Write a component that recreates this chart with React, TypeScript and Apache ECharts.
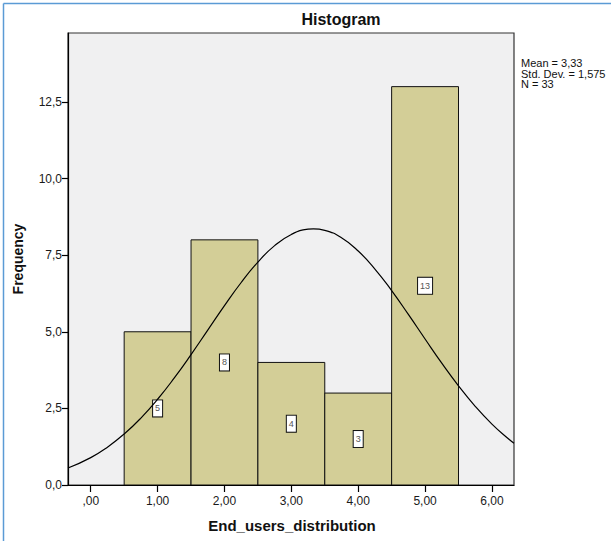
import React, { useEffect, useRef } from 'react';
import * as echarts from 'echarts';

// Histogram bins (centre of each bin) and frequencies
const binCenters = [1, 2, 3, 4, 5];
const frequencies = [5, 8, 4, 3, 13];
const binWidth = 1;

// Tick values
const xTickValues = [0, 1, 2, 3, 4, 5, 6];
const yTickValues = [0, 2.5, 5, 7.5, 10, 12.5];

// Fitted normal curve
const curveX = [-0.34, 0, 0.25, 0.5, 0.75, 1, 1.25, 1.5, 1.75, 2, 2.25, 2.5, 2.75, 3, 3.25, 3.33, 3.5, 3.75, 4, 4.25, 4.5, 4.75, 5, 5.25, 5.5, 5.75, 6, 6.25, 6.33];
const curveY = [0.553, 0.894, 1.235, 1.664, 2.185, 2.798, 3.495, 4.255, 5.054, 5.852, 6.608, 7.275, 7.811, 8.177, 8.348, 8.358, 8.31, 8.067, 7.636, 7.048, 6.343, 5.567, 4.765, 3.975, 3.236, 2.567, 1.987, 1.499, 1.363];

const statsLines = ['Mean = 3,33', 'Std. Dev. = 1,575', 'N = 33'];

const xMin = -0.34;
const xMax = 6.33;
const yMin = 0;
const yMax = 14.75;

const FONT = '"Liberation Sans", Arial, sans-serif';
const barColor = '#d3ce97';

export default function App() {
  const ref = useRef<HTMLDivElement>(null);

  useEffect(() => {
    if (!ref.current) return;
    const chart = echarts.init(ref.current, null, { renderer: 'svg' });

    const option: any = {
      animation: false,
      backgroundColor: '#ffffff',
      textStyle: { fontFamily: FONT },
      grid: {
        left: 68,
        right: 97,
        top: 33,
        bottom: 56,
        show: true,
        backgroundColor: '#f0f0f1',
        borderColor: '#333',
        borderWidth: 1.2,
        containLabel: false,
      },
      xAxis: {
        type: 'value',
        min: xMin,
        max: xMax,
        axisLine: { show: true, onZero: false, lineStyle: { color: '#000', width: 1.2 } },
        axisTick: { show: true, customValues: xTickValues, length: 7, lineStyle: { color: '#000', width: 1.2 } },
        axisLabel: {
          customValues: xTickValues,
          margin: 10,
          fontSize: 12,
          color: '#1a1a1a',
          fontFamily: FONT,
          formatter: (v: number) => (v === 0 ? ',00' : v.toFixed(2).replace('.', ',')),
        },
        splitLine: { show: false },
      },
      yAxis: {
        type: 'value',
        min: yMin,
        max: yMax,
        axisLine: { show: true, onZero: false, lineStyle: { color: '#000', width: 1.2 } },
        axisTick: { show: true, customValues: yTickValues, length: 6, lineStyle: { color: '#000', width: 1.2 } },
        axisLabel: {
          customValues: yTickValues,
          margin: 6,
          fontSize: 12,
          color: '#1a1a1a',
          fontFamily: FONT,
          formatter: (v: number) => v.toFixed(1).replace('.', ','),
        },
        splitLine: { show: false },
      },
      series: [
        {
          type: 'custom',
          z: 2,
          clip: true,
          data: binCenters.map((c, i) => [c, frequencies[i]]),
          renderItem: (params: any, api: any) => {
            const c = api.value(0);
            const v = api.value(1);
            const p0 = api.coord([c - binWidth / 2, v]);
            const p1 = api.coord([c + binWidth / 2, 0]);
            const mid = api.coord([c, v / 2]);
            return {
              type: 'group',
              children: [
                {
                  type: 'rect',
                  shape: { x: p0[0], y: p0[1], width: p1[0] - p0[0], height: p1[1] - p0[1] },
                  style: { fill: barColor, stroke: '#111', lineWidth: 1 },
                },
                {
                  type: 'text',
                  x: mid[0],
                  y: mid[1],
                  z2: 10,
                  style: {
                    text: String(v),
                    align: 'center',
                    verticalAlign: 'middle',
                    fill: '#555',
                    font: '9px ' + FONT,
                    backgroundColor: '#fff',
                    borderColor: '#111',
                    borderWidth: 1,
                    padding: [4, 2, 3, 2],
                  },
                },
              ],
            };
          },
        },
        {
          type: 'line',
          z: 3,
          smooth: true,
          symbol: 'none',
          silent: true,
          clip: true,
          data: curveX.map((x, i) => [x, curveY[i]]),
          lineStyle: { color: '#000', width: 1.2 },
        },
      ],
      graphic: [
        {
          type: 'line',
          shape: { x1: 3.5, y1: 3.5, x2: 3.5, y2: 541 },
          style: { stroke: '#5b9bd5', lineWidth: 1.5 },
        },
        {
          type: 'line',
          shape: { x1: 3.5, y1: 3.5, x2: 611, y2: 3.5 },
          style: { stroke: '#5b9bd5', lineWidth: 1.5 },
        },
        {
          type: 'text',
          x: 341,
          y: 19,
          style: {
            text: 'Histogram',
            align: 'center',
            verticalAlign: 'middle',
            font: 'bold 16px ' + FONT,
            fill: '#111',
          },
        },
        {
          type: 'text',
          x: 292,
          y: 525,
          style: {
            text: 'End_users_distribution',
            align: 'center',
            verticalAlign: 'middle',
            font: 'bold 15px ' + FONT,
            fill: '#111',
          },
        },
        {
          type: 'text',
          x: 18,
          y: 259,
          rotation: Math.PI / 2,
          style: {
            text: 'Frequency',
            align: 'center',
            verticalAlign: 'middle',
            font: 'bold 14px ' + FONT,
            fill: '#111',
          },
        },
        ...statsLines.map((t, i) => ({
          type: 'text',
          x: 521,
          y: 63 + i * 10.5,
          style: {
            text: t,
            align: 'left',
            verticalAlign: 'middle',
            font: '11px ' + FONT,
            fill: '#111',
          },
        })),
      ],
    };

    chart.setOption(option);
    return () => chart.dispose();
  }, []);

  return (
    <div
      ref={ref}
      style={{ position: 'fixed', left: 0, top: 0, width: 611, height: 541 }}
    />
  );
}
